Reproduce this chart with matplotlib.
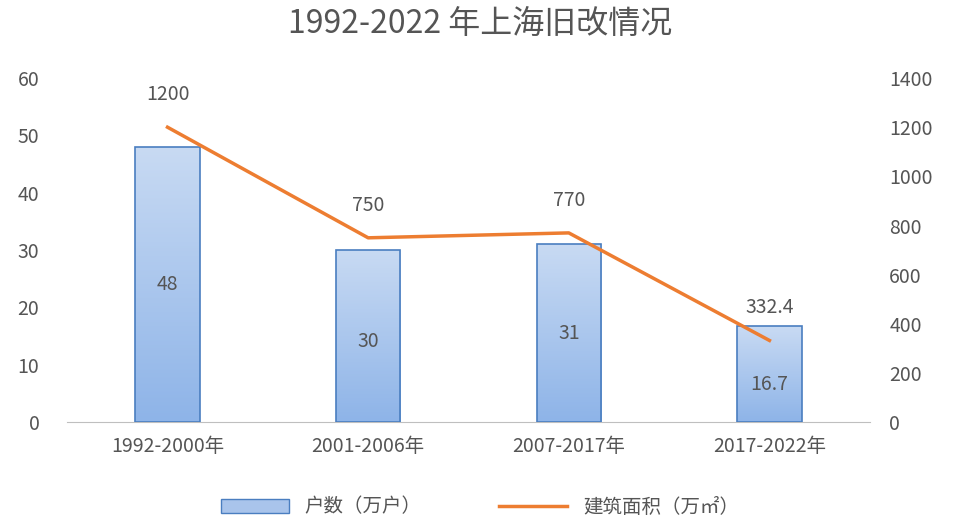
import numpy as np
import matplotlib.pyplot as plt
from matplotlib import font_manager
from matplotlib.colors import LinearSegmentedColormap
from matplotlib.patches import Patch

cjk = sorted({f.name for f in font_manager.fontManager.ttflist
              if 'CJK' in f.name and 'Sans' in f.name})
plt.rcParams['font.family'] = 'sans-serif'
plt.rcParams['font.sans-serif'] = ['Noto Sans CJK SC'] + cjk + ['DejaVu Sans']

periods = ['1992-2000年', '2001-2006年', '2007-2017年', '2017-2022年']
households = [48, 30, 31, 16.7]
area = [1200, 750, 770, 332.4]
area_labels = ['1200', '750', '770', '332.4']

fig = plt.figure(figsize=(9.6, 5.31), dpi=100)
ax = fig.add_axes([0.07, 0.205, 0.836, 0.648])
ax2 = ax.twinx()

x = np.arange(len(periods))
w = 0.32
grad = np.linspace(0, 1, 100).reshape(-1, 1)
cmap = LinearSegmentedColormap.from_list('b', ['#8EB4E8', '#C8DAF3'])
bars = ax.bar(x, households, w, color='none', edgecolor='#4A7EC0', linewidth=1.2, zorder=3)
for b in bars:
    im = ax.imshow(grad, cmap=cmap, aspect='auto', origin='lower',
                   extent=[b.get_x(), b.get_x() + b.get_width(), 0, b.get_height()], zorder=2)
    im.set_clip_path(b)

label_y = [24, 14, 15.5, 6.5]
for xi, v, ly in zip(x, households, label_y):
    ax.text(xi, ly, f'{v:g}', ha='center', va='center', fontsize=14, color='#555555', zorder=5)

line, = ax2.plot(x, area, color='#ED7D31', linewidth=2.5, label='建筑面积（万㎡）', zorder=4)
for xi, v, t in zip(x, area, area_labels):
    ax2.text(xi, v + 90, t, ha='center', va='bottom', fontsize=14, color='#555555')

ax.set_xlim(-0.5, 3.5)
ax.set_ylim(0, 60)
ax2.set_ylim(0, 1400)
ax.set_yticks(range(0, 61, 10))
ax2.set_yticks(range(0, 1401, 200))
ax.set_xticks(x)
ax.set_xticklabels(periods)
for a in (ax, ax2):
    for s in a.spines.values():
        s.set_visible(False)
    a.tick_params(length=0, labelsize=14, colors='#555555')
ax.spines['bottom'].set_visible(True)
ax.spines['bottom'].set_color('#BFBFBF')
ax.tick_params(axis='y', pad=20)
ax.tick_params(axis='x', pad=10)
ax2.tick_params(axis='y', pad=14)

fig.text(0.5, 0.955, '1992-2022 年上海旧改情况', ha='center', va='center', fontsize=23, color='#555555')

proxy = Patch(facecolor='#A9C4EB', edgecolor='#4A7EC0', label='户数（万户）')
fig.legend(handles=[proxy, line], loc='center', bbox_to_anchor=(0.5, 0.045), ncol=2,
           frameon=False, fontsize=14, handlelength=3.5, columnspacing=4, labelcolor='#555555')

fig.savefig('out.png', dpi=100)
